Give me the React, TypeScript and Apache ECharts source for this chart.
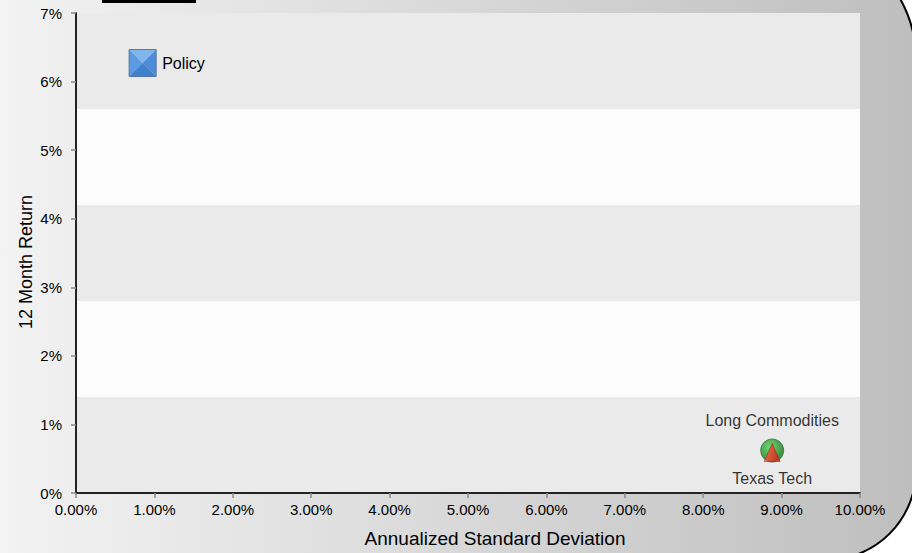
import React, { useEffect, useRef } from "react";
import * as echarts from "echarts";

const xTicks = [0, 1, 2, 3, 4, 5, 6, 7, 8, 9, 10];
const yTicks = [0, 1, 2, 3, 4, 5, 6, 7];
const bandStep = 1.4;

const policyNames = ["Policy"];
const policyStd = [0.85];
const policyRet = [6.27];

const commodNames = ["Long Commodities"];
const commodStd = [8.88];
const commodRet = [0.62];

const techNames = ["Texas Tech"];
const techStd = [8.88];
const techRet = [0.59];

const FONT = "'Liberation Sans', Arial, sans-serif";

export default function App() {
  const ref = useRef<HTMLDivElement>(null);
  useEffect(() => {
    document.body.style.margin = "0";
    const chart = echarts.init(ref.current!, null, { renderer: "svg" });
    const grayAxis = "#8a8a8a";
    const option: any = {
      animation: false,
      textStyle: { fontFamily: FONT },
      graphic: [
        {
          type: "rect",
          z: -10,
          silent: true,
          shape: { x: -10, y: -63, width: 926, height: 623, r: [0, 122, 90, 0] },
          style: {
            fill: new echarts.graphic.LinearGradient(0, 0, 1, 0, [
              { offset: 0, color: "#f3f3f3" },
              { offset: 1, color: "#bebebe" },
            ]),
            stroke: "#000",
            lineWidth: 2,
          },
        },
        {
          type: "rect",
          z: -9,
          silent: true,
          shape: { x: 102, y: 0, width: 94, height: 3 },
          style: { fill: "#000" },
        },
      ],
      grid: { left: 76, right: 52, top: 13, bottom: 59, containLabel: false },
      xAxis: [
        {
          type: "value",
          min: xTicks[0],
          max: xTicks[xTicks.length - 1],
          interval: 1,
          position: "bottom",
          axisLine: { show: true, lineStyle: { color: grayAxis, width: 2 } },
          axisTick: { show: true, length: 5, lineStyle: { color: grayAxis, width: 1.5 } },
          axisLabel: {
            fontSize: 15,
            color: "#000",
            margin: 9,
            fontFamily: FONT,
            formatter: (v: number) => v.toFixed(2) + "%",
          },
          splitLine: { show: false },
          name: "Annualized Standard Deviation",
          nameLocation: "middle",
          nameGap: 36,
          nameTextStyle: { fontSize: 19, color: "#000", fontFamily: FONT, padding: [0, 0, 0, 54] },
        },
        {
          type: "value",
          min: xTicks[0],
          max: xTicks[xTicks.length - 1],
          position: "top",
          axisLine: { show: true, lineStyle: { color: "#000", width: 1.5 } },
          axisTick: { show: false },
          axisLabel: { show: false },
          splitLine: { show: false },
        },
      ],
      yAxis: [
        {
          type: "value",
          min: yTicks[0],
          max: yTicks[yTicks.length - 1],
          interval: 1,
          position: "left",
          axisLine: { show: true, lineStyle: { color: grayAxis, width: 2 } },
          axisTick: { show: true, length: 5, lineStyle: { color: grayAxis, width: 1.5 } },
          axisLabel: {
            fontSize: 15,
            color: "#000",
            margin: 14,
            fontFamily: FONT,
            formatter: (v: number) => v + "%",
          },
          splitLine: { show: false },
          name: "12 Month Return",
          nameLocation: "middle",
          nameGap: 41,
          nameMoveOverlap: false,
          nameTextStyle: { fontSize: 18, color: "#000", fontFamily: FONT, padding: [0, 18, 0, 0] },
        },
        {
          type: "value",
          min: 0,
          max: 7,
          interval: bandStep,
          position: "right",
          axisLine: { show: true, lineStyle: { color: "#000", width: 1.5 } },
          axisTick: { show: false },
          axisLabel: { show: false },
          splitLine: { show: false },
          splitArea: { show: true, areaStyle: { color: ["#eaeaea", "#fcfcfc"] } },
        },
      ],
      series: [
        {
          type: "custom",
          name: "Policy",
          xAxisIndex: 0,
          yAxisIndex: 0,
          data: policyStd.map((x, i) => [x, policyRet[i]]),
          renderItem: (params: any, api: any) => {
            const p = api.coord([api.value(0), api.value(1)]);
            const cx = p[0];
            const cy = p[1];
            const s = 13.5;
            const tl = [cx - s, cy - s];
            const tr = [cx + s, cy - s];
            const bl = [cx - s, cy + s];
            const br = [cx + s, cy + s];
            const c = [cx, cy];
            return {
              type: "group",
              children: [
                { type: "polygon", shape: { points: [tl, tr, c] }, style: { fill: "#80b6ec" } },
                { type: "polygon", shape: { points: [tl, bl, c] }, style: { fill: "#5b9be2" } },
                { type: "polygon", shape: { points: [tr, br, c] }, style: { fill: "#4c8cd8" } },
                { type: "polygon", shape: { points: [bl, br, c] }, style: { fill: "#3f80cf" } },
                {
                  type: "rect",
                  shape: { x: cx - s, y: cy - s, width: 2 * s, height: 2 * s },
                  style: { fill: "none", stroke: "#52779f", lineWidth: 1 },
                },
                {
                  type: "text",
                  x: cx + s + 6,
                  y: cy,
                  style: {
                    text: policyNames[params.dataIndex],
                    fill: "#000",
                    font: `16px ${FONT}`,
                    textAlign: "left",
                    textVerticalAlign: "middle",
                  },
                },
              ],
            };
          },
        },
        {
          type: "scatter",
          name: "Long Commodities",
          data: commodStd.map((x, i) => ({ name: commodNames[i], value: [x, commodRet[i]] })),
          symbol: "circle",
          symbolSize: 23,
          itemStyle: {
            color: new echarts.graphic.RadialGradient(0.4, 0.35, 0.7, [
              { offset: 0, color: "#55d055" },
              { offset: 0.6, color: "#22942a" },
              { offset: 1, color: "#166816" },
            ]),
            borderColor: "#145a14",
            borderWidth: 0.8,
          },
          label: {
            show: true,
            position: "top",
            distance: 10,
            formatter: "{b}",
            fontSize: 16,
            color: "#000",
            fontFamily: FONT,
          },
          z: 3,
        },
        {
          type: "scatter",
          name: "Texas Tech",
          data: techStd.map((x, i) => ({ name: techNames[i], value: [x, techRet[i]] })),
          symbol: "triangle",
          symbolSize: [16, 18],
          itemStyle: {
            color: new echarts.graphic.LinearGradient(0, 0, 1, 0, [
              { offset: 0, color: "#ff5a48" },
              { offset: 0.5, color: "#f03a2a" },
              { offset: 1, color: "#c81e12" },
            ]),
            borderColor: "#a01810",
            borderWidth: 0.6,
          },
          label: {
            show: true,
            position: "bottom",
            distance: 9,
            formatter: "{b}",
            fontSize: 16,
            color: "#000",
            fontFamily: FONT,
          },
          z: 4,
        },
      ],
    };
    chart.setOption(option);
    return () => chart.dispose();
  }, []);
  return <div ref={ref} style={{ width: 912, height: 553 }} />;
}
